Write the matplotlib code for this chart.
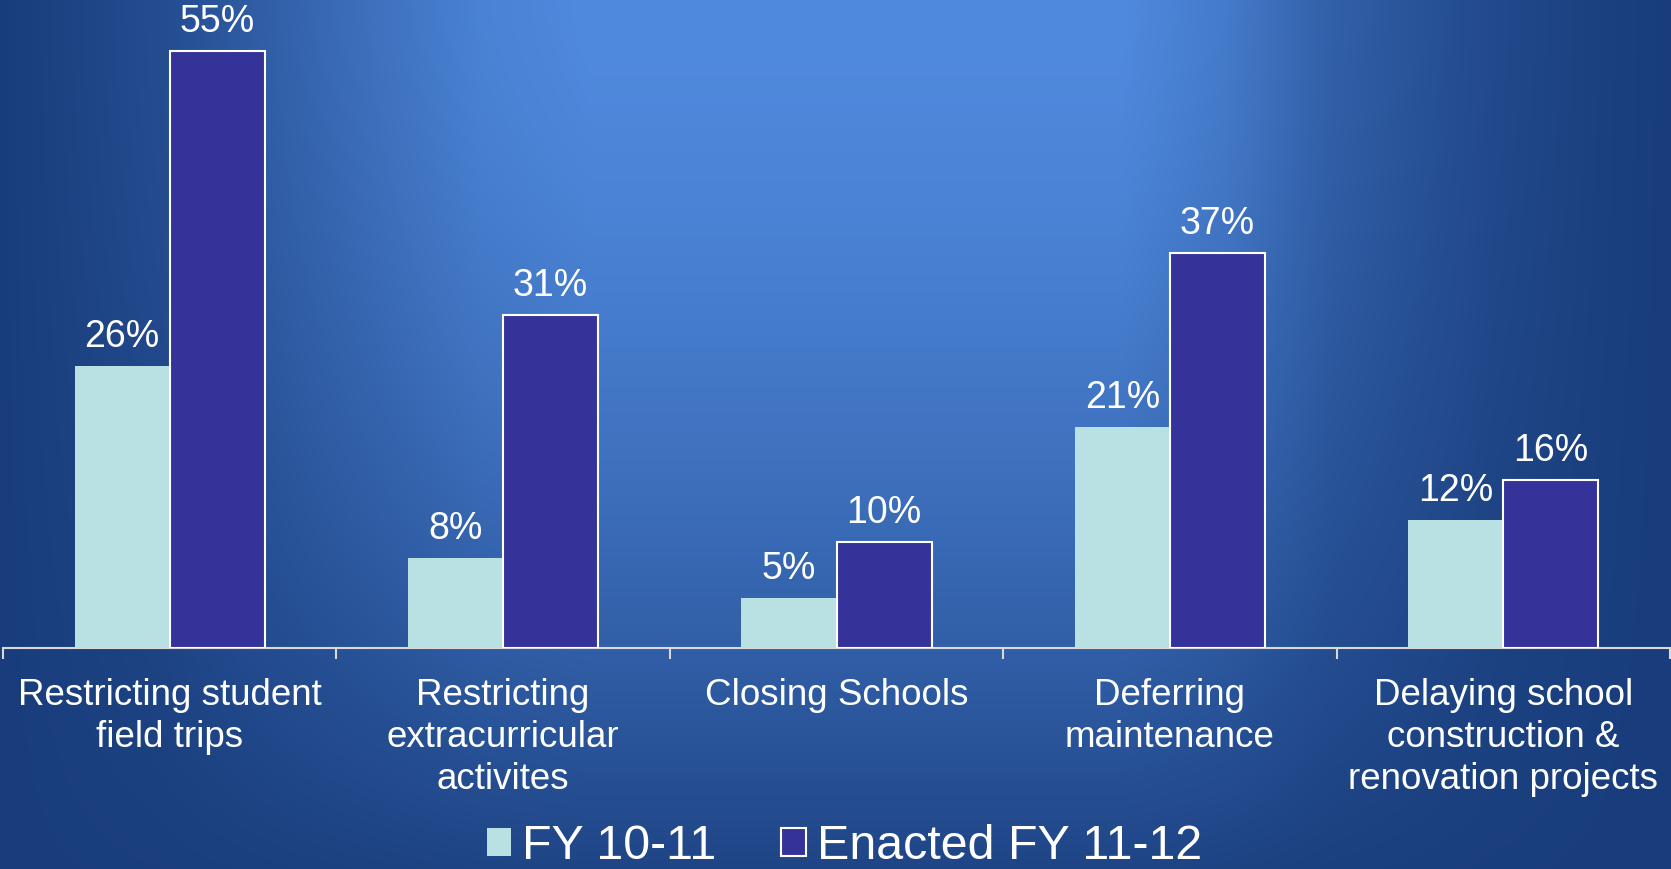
import numpy as np
import matplotlib
matplotlib.use("Agg")
import matplotlib.pyplot as plt
from matplotlib.colors import to_rgb

# ---- data ----
categories = [
    "Restricting student\nfield trips",
    "Restricting\nextracurricular\nactivites",
    "Closing Schools",
    "Deferring\nmaintenance",
    "Delaying school\nconstruction &\nrenovation projects",
]
fy1011 = [26.0, 8.3, 4.6, 20.4, 11.8]
fy1112 = [55.0, 30.7, 9.8, 36.4, 15.5]
fy1011_labels = ["26%", "8%", "5%", "21%", "12%"]
fy1112_labels = ["55%", "31%", "10%", "37%", "16%"]
series_names = ["FY 10-11", "Enacted FY 11-12"]

# ---- style ----
W, H = 1671, 869
plt.rcParams["font.family"] = ["Liberation Sans", "DejaVu Sans"]
light_col = "#b9e0e2"
dark_col = "#353399"
bg_dark = np.array(to_rgb("#193d7c"))
bg_light = np.array(to_rgb("#508ade"))

fig = plt.figure(figsize=(W / 100, H / 100), dpi=100)

# background gradient
bg = fig.add_axes([0, 0, 1, 1], zorder=-10)
xs = np.arange(W)
ys = np.arange(H)
fx = np.interp(xs, [0, 160, 320, 480, 590, 1120, 1226, 1332, 1492, 1620, W],
               [0, 0.2, 0.56, 0.9, 1, 1, 0.8, 0.45, 0.16, 0.03, 0])
fy = 1 - 0.9 * (ys / H) ** 1.6
f = fy[:, None] * fx[None, :]
img = bg_dark[None, None, :] + (bg_light - bg_dark)[None, None, :] * f[:, :, None]
bg.imshow(img, aspect="auto", extent=[0, 1, 0, 1], interpolation="bilinear")
bg.set_axis_off()

# main axes
base_px = 648
px_per_unit = 10.85
ax = fig.add_axes([3 / W, (H - base_px) / H, 1667 / W, base_px / H])
ax.set_facecolor("none")
ax.set_xlim(-0.5, len(categories) - 0.5)
ax.set_ylim(0, base_px / px_per_unit)

x = np.arange(len(categories))
bw = 0.285
b1 = ax.bar(x - bw / 2, fy1011, bw, color=light_col, edgecolor=light_col,
            linewidth=0, label=series_names[0], zorder=3)
b2 = ax.bar(x + bw / 2, fy1112, bw, color=dark_col, edgecolor="white",
            linewidth=1.5, label=series_names[1], zorder=3)

for rect, lab in zip(b1, fy1011_labels):
    ax.annotate(lab, (rect.get_x() + rect.get_width() / 2, rect.get_height()),
                xytext=(0, 13.7), textcoords="offset points", ha="center",
                va="baseline", color="white", fontsize=27)
for rect, lab in zip(b2, fy1112_labels):
    ax.annotate(lab, (rect.get_x() + rect.get_width() / 2, rect.get_height()),
                xytext=(0, 13.7), textcoords="offset points", ha="center",
                va="baseline", color="white", fontsize=27)

for s in ["top", "right", "left"]:
    ax.spines[s].set_visible(False)
ax.spines["bottom"].set_color("#d9d9d9")
ax.spines["bottom"].set_linewidth(1.5)
ax.set_yticks([])
ax.set_xticks(x)
ax.set_xticklabels(categories, color="white", fontsize=26.5, linespacing=1.27)
ax.tick_params(axis="x", which="major", length=0, pad=21.5)
ax.set_xticks(np.arange(len(categories) + 1) - 0.5, minor=True)
ax.tick_params(axis="x", which="minor", length=8, width=1.5, color="#d9d9d9",
               direction="out")

leg = fig.legend(handles=[b1, b2], labels=series_names, loc="lower center",
                 bbox_to_anchor=(0.5054, -0.028), ncol=2, frameon=False,
                 fontsize=34.8, handlelength=0.51, handleheight=0.51,
                 handletextpad=0.23, columnspacing=1.34, borderpad=0)
for t in leg.get_texts():
    t.set_color("white")

fig.savefig("out.png", dpi=100)
